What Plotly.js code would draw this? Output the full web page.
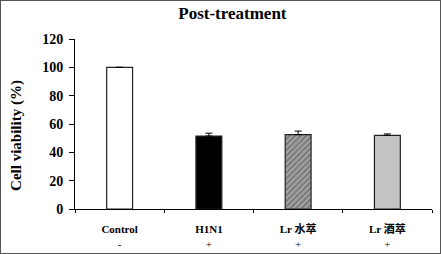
<!DOCTYPE html>
<html><head><meta charset="utf-8">
<script src="https://cdn.plot.ly/plotly-3.0.1.min.js"></script>
<style>
html,body{margin:0;padding:0;background:#fff;}
#wrap{position:relative;width:441px;height:254px;}
#chart{width:441px;height:254px;}
#frame{position:absolute;left:0;top:0;width:439px;height:252px;border:1px solid #555;pointer-events:none;}
</style></head>
<body><div id="wrap"><div id="chart"></div><div id="frame"></div></div>
<script>
const categories = ["Control", "H1N1", "Lr 水萃", "Lr 酒萃"];
const treatment = ["-", "+", "+", "+"];
const viability = [100, 51.5, 52.5, 52];
const errors = [null, 2, 2.5, 1];
const colors = ["#ffffff", "#000000", "#a2a2a2", "#c4c4c4"];
const yTicks = [0, 20, 40, 60, 80, 100, 120];

const serif = '"Liberation Serif", "Times New Roman", "Noto Sans CJK TC", serif';

const trace = {
  type: 'bar',
  x: categories,
  y: viability,
  width: 0.29,
  marker: {
    color: colors,
    line: {color: '#222', width: 1.2},
    pattern: {shape: ['', '', '/', ''], fillmode: 'overlay', fgcolor: '#939393', size: 4, solidity: 0.4}
  },
  error_y: {type: 'data', symmetric: false, array: errors, arrayminus: errors.map(() => 0),
    visible: true, color: '#000', thickness: 1, width: 3.5},
  hoverinfo: 'none'
};

const layout = {
  width: 441, height: 254,
  margin: {l: 75, r: 9, t: 39, b: 45},
  paper_bgcolor: '#fff', plot_bgcolor: '#fff',
  showlegend: false,
  title: {text: '<b>Post-treatment</b>', x: 0.527, xanchor: 'center', y: 0.95, yanchor: 'middle',
    font: {family: serif, size: 17, color: '#000'}},
  xaxis: {
    type: 'category',
    showline: true, linecolor: '#000', linewidth: 1,
    ticks: 'outside', ticklen: 3, tickcolor: '#000', tickson: 'boundaries',
    tickfont: {family: serif, size: 11, color: '#000'},
    ticklabelstandoff: 10,
    tickvals: categories,
    ticktext: categories.map((c, i) => '<b>' + c + '</b><br>' + treatment[i]),
    showgrid: false, zeroline: false, fixedrange: true
  },
  yaxis: {
    range: [0, 120],
    tickvals: yTicks,
    ticktext: yTicks.map(v => '<b>' + v + '</b>'),
    showline: true, linecolor: '#000', linewidth: 1,
    ticks: 'outside', ticklen: 5, tickcolor: '#000',
    ticklabelstandoff: 3,
    tickfont: {family: serif, size: 14, color: '#000'},
    showgrid: false, zeroline: false
  },
  annotations: [{
    text: '<b>Cell viability (%)</b>', textangle: -90, showarrow: false,
    xref: 'paper', yref: 'paper', x: 0, xanchor: 'center', xshift: -58,
    y: 0.43, yanchor: 'middle',
    font: {family: serif, size: 15, color: '#000'}
  }]
};

Plotly.newPlot('chart', [trace], layout, {staticPlot: true, displayModeBar: false});
</script></body></html>
